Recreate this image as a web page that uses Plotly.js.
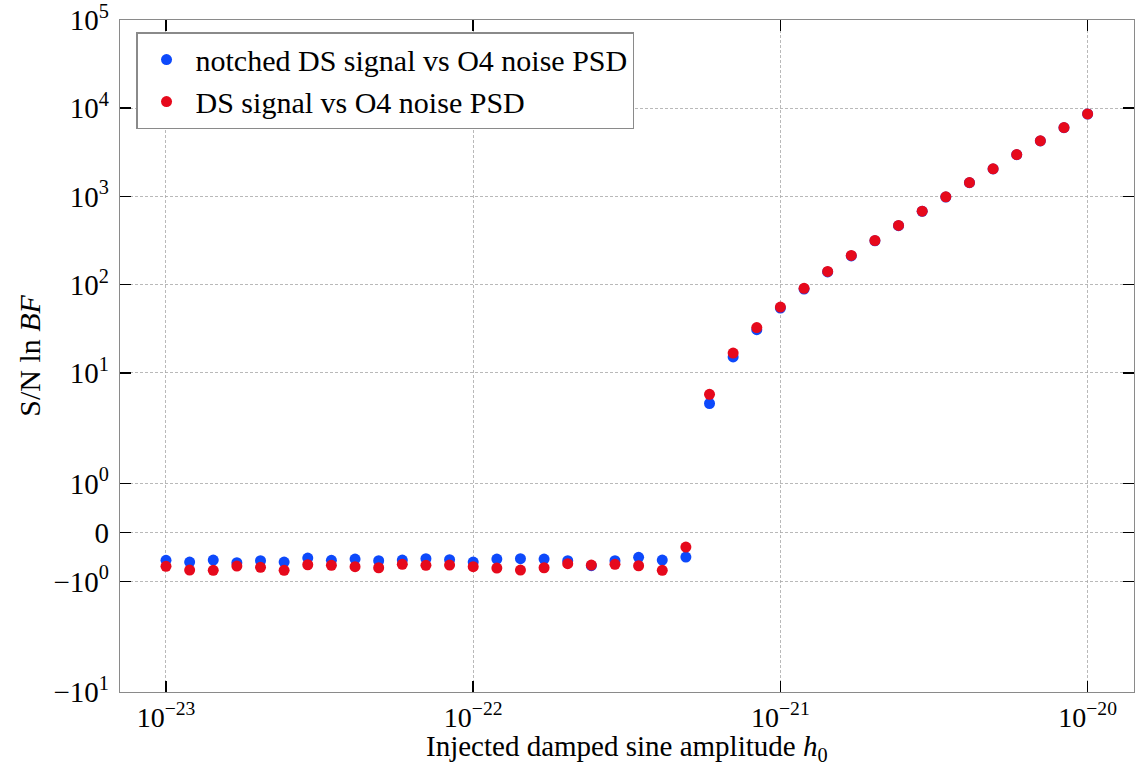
<!DOCTYPE html>
<html>
<head>
<meta charset="utf-8">
<script src="https://cdn.plot.ly/plotly-3.0.1.min.js"></script>
<style>
  html, body { margin: 0; padding: 0; background: #fff; }
  #chart { width: 1139px; height: 767px; }
</style>
</head>
<body>
<div id="chart"></div>
<script>
// Injected damped sine amplitude h0 (x)
const amplitudes = [
  1.000e-23, 1.194e-23, 1.425e-23, 1.701e-23, 2.031e-23, 2.424e-23, 2.894e-23, 3.455e-23, 4.125e-23, 4.924e-23, 5.878e-23, 7.017e-23, 8.377e-23,
  1.000e-22, 1.194e-22, 1.425e-22, 1.701e-22, 2.031e-22, 2.424e-22, 2.894e-22, 3.455e-22, 4.125e-22, 4.924e-22, 5.878e-22, 7.017e-22, 8.377e-22,
  1.000e-21, 1.194e-21, 1.425e-21, 1.701e-21, 2.031e-21, 2.424e-21, 2.894e-21, 3.455e-21, 4.125e-21, 4.924e-21, 5.878e-21, 7.017e-21, 8.377e-21,
  1.000e-20
];
// S/N ln BF, notched DS signal vs O4 noise PSD
const notchedLnBF = [
  -0.571, -0.606, -0.565, -0.620, -0.579, -0.606, -0.524, -0.571, -0.544, -0.579, -0.565, -0.538, -0.559,
  -0.606, -0.544, -0.538, -0.544, -0.579, -0.680, -0.579, -0.510, -0.565, -0.504, 4.48, 15.1, 30.8,
  54.2, 89.0, 139, 211, 313, 465, 677, 984, 1430, 2045, 2970, 4250, 6015,
  8590
];
// S/N ln BF, DS signal vs O4 noise PSD
const fullLnBF = [
  -0.693, -0.769, -0.775, -0.687, -0.714, -0.775, -0.661, -0.673, -0.701, -0.722, -0.652, -0.673, -0.667,
  -0.701, -0.728, -0.769, -0.722, -0.640, -0.667, -0.652, -0.681, -0.775, -0.300, 5.69, 16.7, 32.5,
  55.6, 90.6, 141, 214, 316, 468, 680, 988, 1436, 2052, 2980, 4262, 6030,
  8610
];
const seriesNames = ["notched DS signal vs O4 noise PSD", "DS signal vs O4 noise PSD"];
const xTitle = "Injected damped sine amplitude <i>h</i><sub>0</sub>";
const yTitle = "S/N ln <i>BF</i>";
const xTickValues = [1e-23, 1e-22, 1e-21, 1e-20];
const xTickLabels = ["10<sup>\u221223</sup>", "10<sup>\u221222</sup>", "10<sup>\u221221</sup>", "10<sup>\u221220</sup>"];
const yTickValues = [-10, -1, 0, 1, 10, 100, 1000, 10000, 100000];
const yTickLabels = ["\u221210<sup>1</sup>", "\u221210<sup>0</sup>", "0", "10<sup>0</sup>", "10<sup>1</sup>",
                     "10<sup>2</sup>", "10<sup>3</sup>", "10<sup>4</sup>", "10<sup>5</sup>"];
const xDecades = [1e-24, 1e-23, 1e-22, 1e-21, 1e-20];
const xMinorDigits = [2, 3, 4, 5, 6, 7, 8, 9];

// symmetric-log scale (linthresh = 2, linscale = 1, base 10), like matplotlib's symlog
const LINTHRESH = 2, LINSCALE = 1;
const LINADJ = LINSCALE / (1 - 1 / 10);
function symlog(v) {
  const a = Math.abs(v);
  if (a <= LINTHRESH) return v * LINADJ;
  return Math.sign(v) * LINTHRESH * (LINADJ + Math.log10(a / LINTHRESH));
}

const font = "Liberation Serif, Times New Roman, serif";
const blue = "#0d49fb", red = "#e6091c";
const xRange = [-23.1497, -19.849];

// minor ticks of the log x axis (bottom and top, pointing inward)
const PLOT_H = 767 - 19.5 - 75;
const minorLen = 5.5 / PLOT_H;
const minorShapes = [];
xDecades.forEach(d => xMinorDigits.forEach(m => {
  const lx = Math.log10(d * m);
  if (lx <= xRange[0] || lx >= xRange[1]) return;
  [[0, minorLen], [1 - minorLen, 1]].forEach(([a, b]) => minorShapes.push({
    type: "line", xref: "x", yref: "paper", x0: lx, x1: lx, y0: a, y1: b,
    line: { color: "#000", width: 1.1 }, layer: "above"
  }));
}));

const traces = [
  {
    x: amplitudes, y: notchedLnBF.map(symlog),
    type: "scatter", mode: "markers", name: seriesNames[0],
    legendgroup: "a",
    marker: { color: blue, size: 11 }
  },
  {
    x: amplitudes, y: fullLnBF.map(symlog),
    type: "scatter", mode: "markers", name: seriesNames[1],
    legendgroup: "b",
    marker: { color: red, size: 11 }
  }
];

const layout = {
  width: 1139, height: 767,
  margin: { l: 120, r: 5, t: 19.5, b: 75, pad: 0 },
  paper_bgcolor: "#fff", plot_bgcolor: "#fff",
  font: { family: font, color: "#000", size: 28 },
  showlegend: true,
  legend: {
    x: 0.0158, y: 0.982, xanchor: "left", yanchor: "top",
    bgcolor: "#fff", bordercolor: "#8a8a8a", borderwidth: 1.5,
    font: { family: font, size: 30, color: "#000" },
    traceorder: "grouped", tracegroupgap: 0,
    itemwidth: 48
  },
  xaxis: {
    type: "log",
    range: xRange,
    tickmode: "array",
    tickvals: xTickValues,
    ticktext: xTickLabels,
    showline: true, linecolor: "#8a8a8a", linewidth: 1.2,
    mirror: "allticks",
    ticks: "inside", ticklen: 11, tickwidth: 1.6, tickcolor: "#000",
    tickfont: { family: font, size: 28 },
    ticklabeloverflow: "allow",
    showgrid: true, gridcolor: "#a8a8a8", gridwidth: 0.8, griddash: "3px,2px",
    zeroline: false
  },
  yaxis: {
    type: "linear",
    range: [symlog(-10), symlog(100000)],
    tickmode: "array",
    tickvals: yTickValues.map(symlog),
    ticktext: yTickLabels,
    showline: true, linecolor: "#8a8a8a", linewidth: 1.2,
    mirror: "allticks",
    ticks: "inside", ticklen: 11, tickwidth: 1.6, tickcolor: "#000",
    tickfont: { family: font, size: 29 },
    ticklabeloverflow: "allow",
    ticklabelstandoff: 4,
    showgrid: true, gridcolor: "#a8a8a8", gridwidth: 0.8, griddash: "3px,2px",
    zeroline: false
  },
  shapes: minorShapes,
  annotations: [
    {
      text: xTitle, xref: "paper", yref: "paper", x: 0.5, y: -0.084,
      xanchor: "center", yanchor: "middle", showarrow: false,
      font: { family: font, size: 29, color: "#000" }
    },
    {
      text: yTitle, xref: "paper", yref: "paper", x: -0.09, y: 0.5,
      xanchor: "center", yanchor: "middle", textangle: -90, showarrow: false,
      font: { family: font, size: 30, color: "#000" }
    }
  ]
};

Plotly.newPlot("chart", traces, layout, { staticPlot: true, displayModeBar: false });
</script>
</body>
</html>
